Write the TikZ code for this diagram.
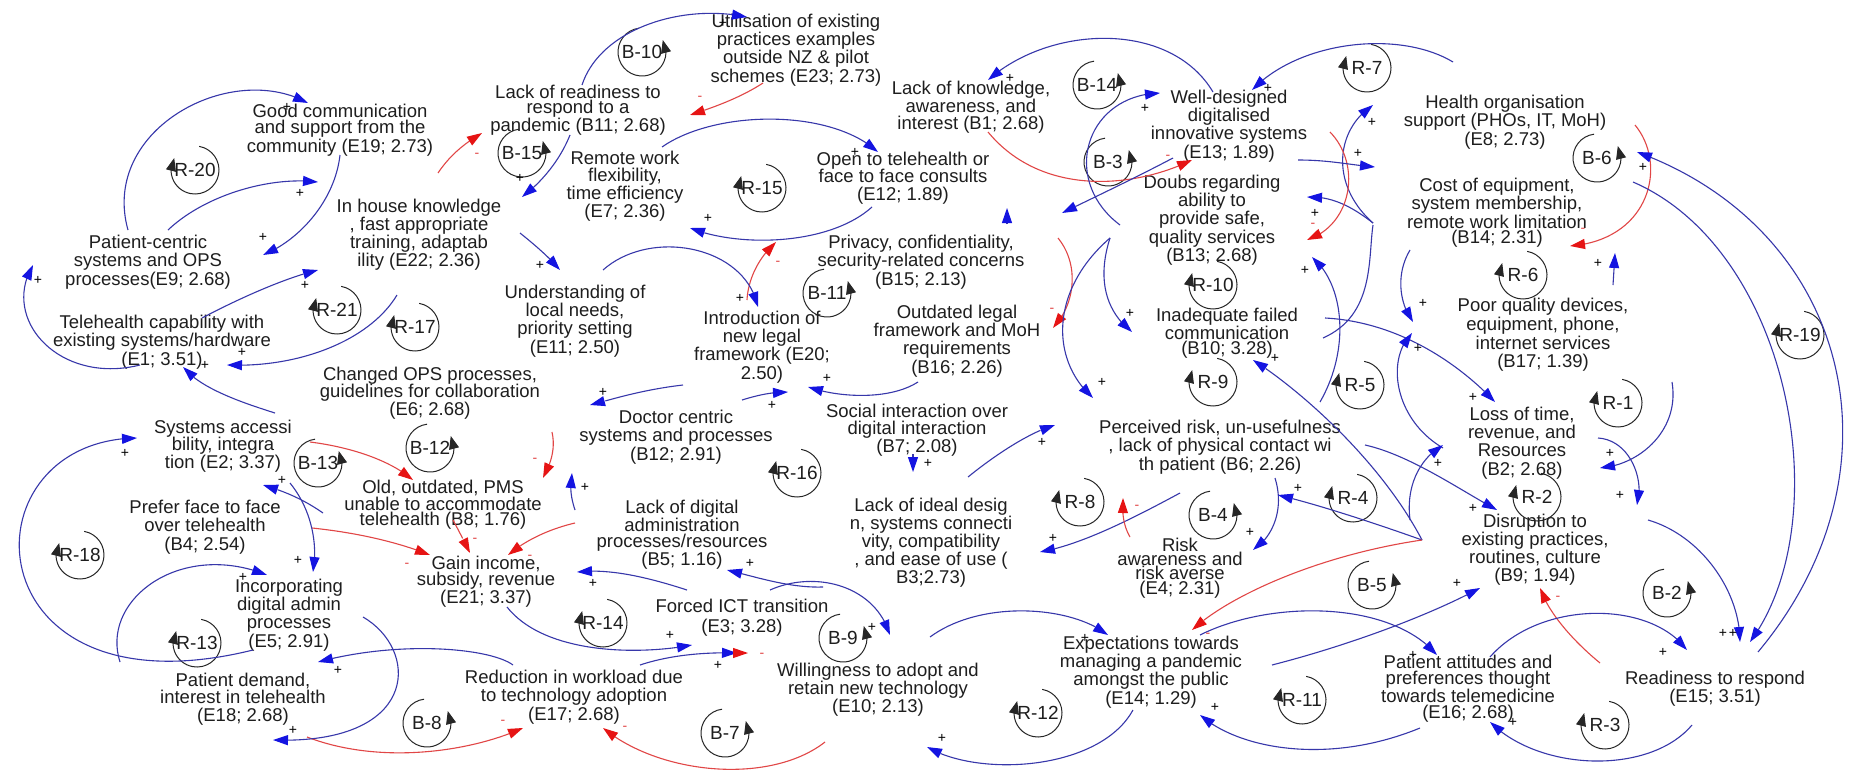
\documentclass[tikz,border=0pt]{standalone}
\usepackage{fontspec}
\setmainfont{Liberation Sans}
\usetikzlibrary{arrows.meta,bending,calc}
\definecolor{lnblue}{RGB}{55,55,170}
\definecolor{tipblue}{RGB}{20,20,225}
\definecolor{lnred}{RGB}{225,70,70}
\definecolor{tipred}{RGB}{230,20,20}
\definecolor{txt}{RGB}{30,30,30}
\tikzset{
 var/.style={align=center,font=\fontsize{18.5}{#1}\selectfont,inner sep=1pt,text=txt},
 var/.default=17,
 ln/.style={draw=lnblue,line width=1.1pt},
 bl/.style={ln,-{Triangle[length=15pt,width=10pt,color=tipblue]}},
 rd/.style={draw=lnred,line width=1.1pt,-{Triangle[length=15pt,width=10pt,color=tipred]}},
 pl/.style={font=\fontsize{14}{14}\selectfont,inner sep=0pt,text=black},
 mi/.style={font=\fontsize{14}{14}\selectfont,inner sep=0pt,text=lnred},
 looplab/.style={font=\fontsize{19}{19}\selectfont,inner sep=0pt,text=txt},
 loopline/.style={draw=black!85,line width=1pt,-{Triangle[length=13pt,width=10pt]}},
}
\newcounter{sgn}
\newcommand\PL[1]{\stepcounter{sgn}\node[pl] (sg\thesgn) at (#1) {+};}
\newcommand\MI[1]{\stepcounter{sgn}\node[mi] (sg\thesgn) at (#1) {-};}
% reinforcing loop marker: arrow on the left, pointing up
\newcommand\RL[3]{\node[looplab] (#1) at (#2) {#3};
 \draw[loopline] ([shift={(80:24pt)}]#1.center) arc[start angle=80,end angle=-210,radius=24pt];}
% balancing loop marker: arrow on the right, pointing up
\newcommand\BL[3]{\node[looplab] (#1) at (#2) {#3};
 \draw[loopline] ([shift={(97:24pt)}]#1.center) arc[start angle=97,end angle=390,radius=24pt];}
\begin{document}
\begin{tikzpicture}[x=1pt,y=-1pt]
\fill[white] (0,0) rectangle (1849,771);
\useasboundingbox (0,0) rectangle (1849,771);

% ---------- variables ----------
\node[var=16.5] (E19) at (340,130) {Good communication\\and support from the\\community (E19; 2.73)};
\node[var=15.5] (E23) at (796,50) {Utilisation of existing\\practices examples\\outside NZ \& pilot\\schemes (E23; 2.73)};
\node[var=15] (B11) at (578,110) {Lack of readiness to\\respond to a\\pandemic (B11; 2.68)};
\node[var=15] (B1) at (971,107) {Lack of knowledge,\\awareness, and\\interest (B1; 2.68)};
\node[var=16] (E13) at (1229,126) {Well-designed\\digitalised\\innovative systems\\(E13; 1.89)};
\node[var=18.5] (E8) at (1505,122) {Health organisation\\support (PHOs, IT, MoH)\\(E8; 2.73)};
\node[var=17.7] (E7) at (625,186) {Remote work\\flexibility,\\time efficiency\\(E7; 2.36)};
\node[var=17.5] (E12) at (903,178) {Open to telehealth or\\face to face consults\\(E12; 1.89)};
\node[var=18] (E22) at (419,235) {In house knowledge\\, fast appropriate\\training, adaptab\\ility (E22; 2.36)};
\node[var=18.5] (E9) at (148,262) {Patient-centric\\systems and OPS\\processes(E9; 2.68)};
\node[var=16.5] (B13) at (1212,220) {Doubs regarding\\ability to\\provide safe,\\quality services\\(B13; 2.68)};
\node[var=15.7] (B14) at (1497,213) {Cost of equipment,\\system membership,\\remote work limitation\\(B14; 2.31)};
\node[var=18.5] (B15) at (921,262) {Privacy, confidentiality,\\security-related concerns\\(B15; 2.13)};
\node[var=18.3] (E11) at (575,321) {Understanding of\\local needs,\\priority setting\\(E11; 2.50)};
\node[var=14] (E1) at (162,342) {Telehealth capability with\\existing systems/hardware\\(E1; 3.51)};
\node[var=18.3] (E20) at (762,347) {Introduction of\\new legal\\framework (E20;\\2.50)};
\node[var=18.3] (B16) at (957,341) {Outdated legal\\framework and MoH\\requirements\\(B16; 2.26)};
\node[var=15] (B10) at (1227,333) {Inadequate failed\\communication\\(B10; 3.28)};
\node[var=18.7] (B17) at (1543,335) {Poor quality devices,\\equipment, phone,\\internet services\\(B17; 1.39)};
\node[var=17.5] (E6) at (430,393) {Changed OPS processes,\\guidelines for collaboration\\(E6; 2.68)};
\node[var=18.5] (B12) at (676,437) {Doctor centric\\systems and processes\\(B12; 2.91)};
\node[var=17.5] (B7) at (917,430) {Social interaction over\\digital interaction\\(B7; 2.08)};
\node[var=18.5] (B6) at (1220,447) {Perceived risk, un-usefulness\\, lack of physical contact wi\\th patient (B6; 2.26)};
\node[var=18.3] (B2) at (1522,443) {Loss of time,\\revenue, and\\Resources\\(B2; 2.68)};
\node[var=17.5] (E2) at (223,446) {Systems accessi\\bility, integra\\tion (E2; 3.37)};
\node[var=15] (B8) at (443,505) {Old, outdated, PMS\\unable to accommodate\\telehealth (B8; 1.76)};
\node[var=18.5] (B4) at (205,527) {Prefer face to face\\over telehealth\\(B4; 2.54)};
\node[var=15.7] (B5) at (682,535) {Lack of digital\\administration\\processes/resources\\(B5; 1.16)};
\node[var=18] (B3) at (931,543) {Lack of ideal desig\\n, systems connecti\\vity, compatibility\\, and ease of use (\\B3;2.73)};
\node[var=14.3] (E4) at (1180,568) {Risk\\awareness and\\risk averse\\(E4; 2.31)};
\node[var=18] (B9) at (1535,550) {Disruption to\\existing practices,\\routines, culture\\(B9; 1.94)};
\node[var=16] (E21) at (486,582) {Gain income,\\subsidy, revenue\\(E21; 3.37)};
\node[var=18.3] (E5) at (289,615) {Incorporating\\digital admin\\processes\\(E5; 2.91)};
\node[var=20] (E3) at (742,618) {Forced ICT transition\\(E3; 3.28)};
\node[var=18.3] (E14) at (1151,672) {Expectations towards\\managing a pandemic\\amongst the public\\(E14; 1.29)};
\node[var=18] (E10) at (878,690) {Willingness to adopt and\\retain new technology\\(E10; 2.13)};
\node[var=15.7] (E16) at (1468,689) {Patient attitudes and\\preferences thought\\towards telemedicine\\(E16; 2.68)};
\node[var=18] (E15) at (1715,689) {Readiness to respond\\(E15; 3.51)};
\node[var=18.5] (E17) at (574,697) {Reduction in workload due\\to technology adoption\\(E17; 2.68)};
\node[var=17.5] (E18) at (243,699) {Patient demand,\\interest in telehealth\\(E18; 2.68)};

% ---------- loop markers ----------
\RL{lR20}{195,170}{R-20}
\BL{lB10}{642,52}{B-10}
\BL{lB15}{522,153}{B-15}
\RL{lR15}{762,188}{R-15}
\BL{lB14}{1097,85}{B-14}
\BL{lB3}{1108,162}{B-3}
\RL{lR7}{1367,68}{R-7}
\BL{lB6}{1597,158}{B-6}
\RL{lR21}{337,310}{R-21}
\RL{lR17}{415,327}{R-17}
\BL{lB11}{827,293}{B-11}
\RL{lR10}{1213,285}{R-10}
\BL{lB12}{430,448}{B-12}
\BL{lB13}{318,463}{B-13}
\RL{lR16}{797,473}{R-16}
\RL{lR9}{1213,382}{R-9}
\RL{lR5}{1360,385}{R-5}
\RL{lR6}{1523,275}{R-6}
\RL{lR1}{1618,403}{R-1}
\RL{lR19}{1800,335}{R-19}
\RL{lR8}{1080,502}{R-8}
\BL{lB4}{1213,515}{B-4}
\RL{lR4}{1353,498}{R-4}
\RL{lR2}{1537,497}{R-2}
\BL{lB5}{1372,585}{B-5}
\RL{lR18}{80,555}{R-18}
\RL{lR13}{197,643}{R-13}
\RL{lR14}{603,623}{R-14}
\BL{lB9}{843,638}{B-9}
\BL{lB8}{427,723}{B-8}
\BL{lB7}{725,733}{B-7}
\RL{lR12}{1038,713}{R-12}
\RL{lR11}{1302,700}{R-11}
\BL{lB2}{1667,593}{B-2}
\RL{lR3}{1605,725}{R-3}

% ---------- causal links ----------
\draw[bl] ($(E9)+(-20,-32)$) .. controls (100,130) and (230,60) .. ($(E19)+(-32,-27)$);
\draw[bl] ($(E9)+(20,-32)$) .. controls (205,195) and (270,176) .. ($(E22)+(-101,-53)$);
\draw[bl] ($(E19)+(0,25)$) .. controls (335,200) and (300,240) .. ($(E9)+(115,-7)$);
\draw[rd] ($(E22)+(19,-62)$) .. controls (450,155) and (465,143) .. ($(B11)+(-96,23)$);
\draw[bl] ($(B11)+(4,-25)$) .. controls (600,30) and (680,3) .. ($(E23)+(-49,-33)$);
\draw[rd] ($(E23)+(-33,33)$) .. controls (740,98) and (712,108) .. ($(B11)+(112,5)$);
\draw[bl] ($(B11)+(-8,25)$) .. controls (560,160) and (542,182) .. ($(E22)+(103,-38)$);
\draw[bl] ($(E7)+(37,-39)$) .. controls (715,110) and (830,108) .. ($(E12)+(-25,-26)$);
\draw[bl] ($(E12)+(-31,29)$) .. controls (830,245) and (740,248) .. ($(E7)+(65,42)$);
\draw[rd] ($(E20)+(-15,-47)$) .. controls (748,280) and (758,258) .. ($(E12)+(-127,64)$);
\draw[bl] ($(E22)+(101,-2)$) .. controls (535,245) and (550,258) .. ($(E11)+(-15,-51)$);
\draw[bl] ($(E11)+(28,-51)$) .. controls (650,228) and (745,245) .. ($(E20)+(-4,-40)$);
\draw[bl] ($(E1)+(-22,23)$) .. controls (60,385) and (0,320) .. ($(E9)+(-115,3)$);
\draw[bl] ($(E1)+(40,-24)$) .. controls (240,298) and (285,278) .. ($(E22)+(-101,35)$);
\draw[bl] ($(E22)+(-22,60)$) .. controls (370,340) and (300,368) .. ($(E1)+(65,23)$);
\draw[bl] ($(E2)+(52,-33)$) .. controls (240,402) and (200,388) .. ($(E1)+(21,25)$);
\draw[rd] ($(E2)+(87,-4)$) .. controls (350,447) and (390,460) .. ($(B8)+(-30,-25)$);
\draw[bl] ($(E20)+(-79,38)$) .. controls (640,390) and (610,400) .. ($(E6)+(160,12)$);
\draw[bl] ($(B12)+(66,-37)$) .. controls (758,395) and (772,392) .. ($(E20)+(26,45)$);
\draw[bl] ($(B16)+(-39,41)$) .. controls (890,400) and (840,398) .. ($(E20)+(46,40)$);
\draw[rd] ($(E6)+(122,39)$) .. controls (556,450) and (550,465) .. ($(B8)+(100,-27)$);
\draw[bl] ($(B5)+(-107,-25)$) .. controls (570,495) and (570,485) .. ($(B12)+(-104,36)$);
\draw[bl] ($(B7)+(-4,24)$) -- ($(B3)+(-18,-71)$);
\draw[rd] ($(B15)+(137,-24)$) .. controls (1080,265) and (1075,305) .. ($(B16)+(96,-13)$);
\draw[bl] ($(B13)+(-102,18)$) .. controls (1050,290) and (1050,360) .. ($(B6)+(-127,-49)$);
\draw[bl] ($(B13)+(-102,18)$) .. controls (1095,285) and (1110,315) .. ($(B10)+(-95,-1)$);
\draw[bl] ($(B3)+(37,-66)$) .. controls (995,455) and (1030,432) .. ($(B6)+(-165,-22)$);
\draw[bl] ($(B6)+(-40,46)$) .. controls (1130,520) and (1080,545) .. ($(B3)+(109,9)$);
\draw[rd] ($(E4)+(-50,-31)$) .. controls (1123,525) and (1122,512) .. ($(B6)+(-97,51)$);
\draw[bl] ($(B6)+(55,31)$) .. controls (1285,510) and (1272,538) .. ($(E4)+(73,-18)$);
\draw[bl] ($(B9)+(-113,-10)$) .. controls (1380,525) and (1320,505) .. ($(B6)+(58,48)$);
\draw[bl] ($(B9)+(-113,-10)$) .. controls (1380,460) and (1300,390) .. ($(B10)+(26,27)$);
\draw[bl] ($(B6)+(100,-45)$) .. controls (1350,350) and (1345,285) .. ($(B13)+(100,37)$);
\draw[bl] ($(B10)+(98,-15)$) .. controls (1400,322) and (1460,365) .. ($(B2)+(-27,-41)$);
\draw[ln] ($(B10)+(96,5)$) .. controls (1375,315) and (1368,258) .. ($(B14)+(-124,12)$);
\draw[bl] ($(B14)+(-124,10)$) .. controls (1330,185) and (1335,130) .. ($(E8)+(-132,-17)$);
\draw[bl] ($(B14)+(-124,10)$) .. controls (1350,205) and (1330,196) .. ($(B13)+(95,-23)$);
\draw[rd] ($(E13)+(101,6)$) .. controls (1362,165) and (1352,225) .. ($(B13)+(95,20)$);
\draw[bl] ($(E13)+(69,34)$) .. controls (1330,160) and (1350,165) .. ($(B14)+(-122,-46)$);
\draw[bl] ($(E8)+(-52,-60)$) .. controls (1400,30) and (1300,40) .. ($(E13)+(23,-36)$);
\draw[bl] ($(E13)+(-16,-34)$) .. controls (1170,20) and (1050,25) .. ($(B1)+(17,-27)$);
\draw[rd] ($(B1)+(17,25)$) .. controls (1040,195) and (1130,190) .. ($(E13)+(-37,34)$);
\draw[bl] ($(B13)+(-92,5)$) .. controls (1060,180) and (1085,95) .. ($(E13)+(-69,-33)$);
\draw[bl] ($(E13)+(-56,32)$) .. controls (1135,178) and (1095,197) .. ($(B15)+(141,-49)$);
\draw[bl] ($(B15)+(86,-38)$) -- ($(E12)+(104,30)$);
\draw[rd] ($(E8)+(130,3)$) .. controls (1668,165) and (1650,240) .. ($(B14)+(73,33)$);
\draw[bl] ($(E15)+(43,-37)$) .. controls (1910,470) and (1850,230) .. ($(E8)+(132,30)$);
\draw[bl] ($(B14)+(136,-31)$) .. controls (1790,250) and (1840,520) .. ($(E15)+(35,-47)$);
\draw[bl] ($(B9)+(113,-30)$) .. controls (1700,535) and (1740,590) .. ($(E15)+(25,-47)$);
\draw[bl] ($(B17)+(70,-50)$) -- ($(B14)+(118,40)$);
\draw[bl] ($(B14)+(-87,37)$) .. controls (1395,275) and (1400,305) .. ($(B17)+(-130,-13)$);
\draw[bl] ($(B2)+(-79,5)$) .. controls (1395,420) and (1385,360) .. ($(B17)+(-131,-2)$);
\draw[bl] ($(B17)+(129,47)$) .. controls (1680,430) and (1640,465) .. ($(B2)+(78,25)$);
\draw[bl] ($(B2)+(76,-5)$) .. controls (1630,440) and (1645,480) .. ($(B9)+(102,-45)$);
\draw[bl] ($(B6)+(145,-2)$) .. controls (1410,455) and (1460,490) .. ($(B9)+(-38,-40)$);
\draw[bl] ($(B9)+(-125,-30)$) .. controls (1405,480) and (1425,455) .. ($(B2)+(-79,2)$);
\draw[rd] ($(E15)+(-115,-26)$) .. controls (1572,640) and (1548,612) .. ($(B9)+(5,38)$);
\draw[bl] ($(E14)+(121,-7)$) .. controls (1350,645) and (1430,615) .. ($(B9)+(-55,38)$);
\draw[bl] ($(E16)+(22,-32)$) .. controls (1540,600) and (1650,600) .. ($(E15)+(-28,-39)$);
\draw[bl] ($(E15)+(-23,36)$) .. controls (1650,775) and (1540,772) .. ($(E16)+(22,33)$);
\draw[bl] ($(E16)+(-48,39)$) .. controls (1330,765) and (1240,750) .. ($(E14)+(49,43)$);
\draw[bl] ($(E14)+(-18,38)$) .. controls (1100,770) and (980,778) .. ($(E10)+(49,57)$);
\draw[bl] ($(E10)+(52,-53)$) .. controls (980,600) and (1070,605) .. ($(E14)+(-43,-37)$);
\draw[rd] ($(B9)+(-113,-10)$) .. controls (1320,555) and (1230,595) .. ($(E14)+(41,-42)$);
\draw[bl] ($(E14)+(49,-37)$) .. controls (1270,600) and (1390,600) .. ($(E16)+(-31,-34)$);
\draw[bl] ($(E3)+(28,-28)$) .. controls (815,570) and (875,585) .. ($(E10)+(12,-55)$);
\draw[bl] ($(E10)+(-55,-103)$) .. controls (790,588) and (760,578) .. ($(B5)+(45,35)$);
\draw[bl] ($(E21)+(21,25)$) .. controls (545,655) and (640,655) .. ($(E3)+(-50,27)$);
\draw[bl] ($(E3)+(-55,-28)$) .. controls (650,578) and (610,568) .. ($(E21)+(91,-10)$);
\draw[bl] ($(E17)+(66,-32)$) .. controls (670,655) and (705,652) .. ($(E3)+(-5,35)$);
\draw[rd] ($(E10)+(-136,-37)$) -- ($(E3)+(6,35)$);
\draw[bl] ($(E17)+(-61,-32)$) .. controls (490,648) and (400,640) .. ($(E5)+(29,47)$);
\draw[rd] ($(E18)+(64,38)$) .. controls (380,765) and (470,752) .. ($(E17)+(-51,31)$);
\draw[rd] ($(E10)+(-53,52)$) .. controls (770,785) and (660,775) .. ($(E17)+(29,31)$);
\draw[rd] ($(B4)+(107,1)$) .. controls (360,533) and (400,543) .. ($(E21)+(-56,-27)$);
\draw[rd] ($(B8)+(10,15)$) .. controls (460,533) and (466,545) .. ($(E21)+(-16,-29)$);
\draw[rd] ($(B5)+(-107,-12)$) .. controls (545,530) and (522,543) .. ($(E21)+(22,-27)$);
\draw[bl] ($(B4)+(118,-14)$) .. controls (300,497) and (280,490) .. ($(E2)+(40,39)$);
\draw[bl] ($(E2)+(67,37)$) .. controls (312,510) and (318,545) .. ($(E5)+(24,-43)$);
\draw[bl] ($(E5)+(-36,35)$) .. controls (-30,720) and (-40,440) .. ($(E2)+(-86,-8)$);
\draw[bl] ($(E18)+(-123,-37)$) .. controls (100,600) and (180,540) .. ($(E5)+(-22,-40)$);
\draw[bl] ($(E5)+(74,2)$) .. controls (420,650) and (420,745) .. ($(E18)+(30,41)$);

% ---------- link polarities ----------
\PL{287,107}\PL{300,193}\PL{263,237}\MI{477,155}\PL{723,23}\MI{700,98}
\PL{520,178}\PL{855,152}\PL{708,218}\MI{778,263}\PL{540,265}\PL{740,298}
\PL{38,280}\PL{305,285}\PL{242,352}\PL{205,365}\PL{603,392}\PL{772,405}
\PL{827,378}\MI{535,460}\PL{585,487}\PL{928,463}\MI{1052,310}\PL{1102,382}
\PL{1130,313}\PL{1042,442}\PL{1053,538}\MI{1137,507}\PL{1250,532}\PL{1298,488}
\PL{1275,358}\PL{1305,270}\PL{1473,397}\PL{1358,153}\PL{1268,88}\PL{1010,78}
\MI{1168,157}\PL{1145,108}\PL{1372,122}\MI{1583,230}\PL{1643,167}\PL{1598,263}
\PL{1423,303}\PL{1418,348}\PL{1610,453}\PL{1620,495}\PL{1473,508}\PL{1438,463}
\MI{1558,598}\PL{1457,583}\PL{1413,655}\PL{1663,652}\PL{1513,722}\PL{1215,707}
\PL{942,738}\PL{1085,638}\MI{1208,635}\PL{872,627}\PL{750,563}\PL{670,635}
\PL{593,583}\PL{718,665}\MI{762,655}\PL{338,670}\MI{503,722}\MI{625,728}
\MI{407,565}\MI{475,540}\MI{530,557}\PL{282,480}\PL{298,560}\PL{125,453}
\PL{243,577}\PL{293,730}\PL{1723,633}\PL{1733,633}\PL{1315,213}\MI{1313,225}
\end{tikzpicture}
\end{document}
